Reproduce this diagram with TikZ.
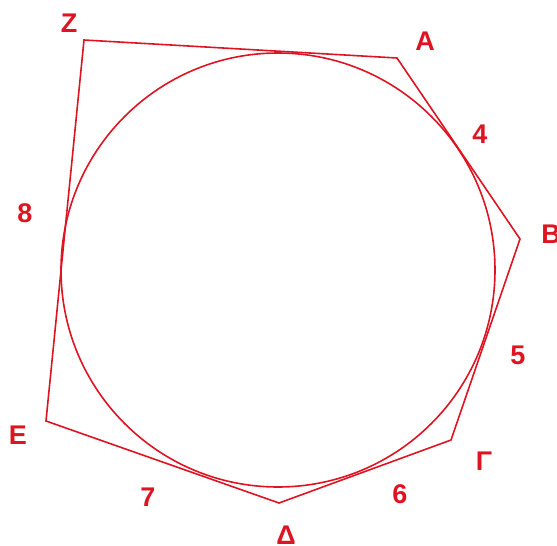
\documentclass[tikz,border=0pt]{standalone}
\usepackage{fontspec}
\setmainfont{Liberation Sans}
\definecolor{geored}{RGB}{222,20,34}
\begin{document}
\begin{tikzpicture}[x=1pt,y=-1pt,
  edge/.style={draw=geored,line width=1.6pt,line join=miter},
  lbl/.style={text=geored,font=\bfseries\fontsize{27}{27}\selectfont,inner sep=0pt}]
\useasboundingbox (0,0) rectangle (557,546);
\coordinate (Z) at (84,40);
\coordinate (A) at (397,58);
\coordinate (B) at (520,239);
\coordinate (G) at (451,440);
\coordinate (D) at (279,503);
\coordinate (E) at (46,421);
\coordinate (O) at (278,270);
\draw[edge] (Z) -- (A) -- (B) -- (G) -- (D) -- (E) -- cycle;
\draw[edge] (O) circle[radius=217];
\node[lbl] (lZ) at (69,23) {Z};
\node[lbl] (lA) at (425,41) {A};
\node[lbl] (lB) at (551,234) {B};
\node[lbl] (lG) at (484,461) {Γ};
\node[lbl] (lD) at (286,535) {Δ};
\node[lbl] (lE) at (18,435) {E};
\node[lbl] (l4) at (480,134) {4};
\node[lbl] (l5) at (518,355) {5};
\node[lbl] (l6) at (400,494) {6};
\node[lbl] (l7) at (148,497) {7};
\node[lbl] (l8) at (25,213) {8};
\end{tikzpicture}
\end{document}
